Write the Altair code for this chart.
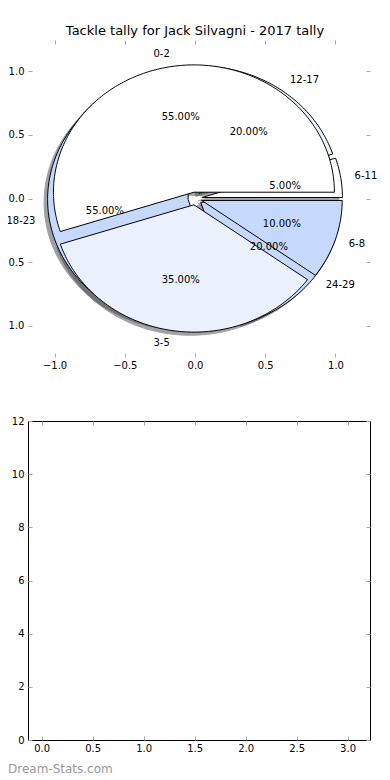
import numpy as np
import pandas as pd
import altair as alt

FONT = "DejaVu Sans"
TICK = "#aaaaaa"

title = "Tackle tally for Jack Silvagni - 2017 tally"
pie1_labels = ["0-2", "3-5", "6-8"]
pie1_values = [55, 35, 10]
pie1_colors = ["#ffffff", "#eaf1fd", "#c6d9fd"]
pie2_labels = ["6-11", "12-17", "18-23", "24-29"]
pie2_values = [5, 20, 55, 20]
pie2_colors = ["#ffffff", "#eaf1fd", "#c6d9fd", "#c6d9fd"]
explode = 0.05
shadow_shift = -0.025
pie_ticks = [-1.0, -0.5, 0.0, 0.5, 1.0]
bottom_x_ticks = [0.0, 0.5, 1.0, 1.5, 2.0, 2.5, 3.0]
bottom_y_ticks = [0, 2, 4, 6, 8, 10, 12]
watermark = "Dream-Stats.com"


def shade(c):
    r, g, b = (int(c[i:i + 2], 16) for i in (1, 3, 5))
    return "#%02x%02x%02x" % (int(r * 0.3), int(g * 0.3), int(b * 0.3))


wedge_rows, label_rows, pct_rows = [], [], []


def build(pie, labels, values, colors):
    total = float(sum(values))
    start = 0.0
    for lab, v, c in zip(labels, values, colors):
        span = 360.0 * v / total
        t1, t2 = start, start + span
        mid = np.deg2rad((t1 + t2) / 2)
        cx, cy = explode * np.cos(mid), explode * np.sin(mid)
        key = f"{pie}:{lab}"
        pts = [(cx, cy)]
        n = max(3, int(np.ceil(span)) + 1)
        for t in np.linspace(t1, t2, n):
            tr = np.deg2rad(t)
            pts.append((cx + np.cos(tr), cy + np.sin(tr)))
        for k, (px, py) in enumerate(pts):
            wedge_rows.append(dict(key=key, pie=pie, ord=k, x=px, y=py,
                                   sx=px + shadow_shift, sy=py + shadow_shift,
                                   fill=c, shade=shade(c)))
        xt = cx + 1.1 * np.cos(mid)
        yt = cy + 1.1 * np.sin(mid)
        label_rows.append(dict(text=lab, x=xt, y=yt, side="left" if xt > 0 else "right"))
        pct_rows.append(dict(text=f"{100 * v / total:.2f}%",
                             x=cx + 0.6 * np.cos(mid), y=cy + 0.6 * np.sin(mid)))
        start = t2


build(2, pie2_labels, pie2_values, pie2_colors)
build(1, pie1_labels, pie1_values, pie1_colors)
wdf = pd.DataFrame(wedge_rows)
ldf = pd.DataFrame(label_rows)
pdf = pd.DataFrame(pct_rows)


def axis(orient, values, fmt, labels):
    kw = dict(orient=orient, values=values, domain=False, grid=False, ticks=True,
              tickSize=4, tickColor=TICK, tickWidth=1, offset=-4, title=None,
              labels=labels)
    if labels:
        kw.update(format=fmt, labelFont=FONT, labelFontSize=10, labelColor="black",
                  labelOverlap=False, labelFlush=False)
        if orient in ("bottom", "top"):
            kw.update(labelBaseline="middle", labelPadding=8)
        else:
            kw.update(labelAlign="right", labelBaseline="middle", labelPadding=4)
    return alt.Axis(**kw)


PW = 342  # plot width of both panels

xs = alt.Scale(domain=[-1.189, 1.2456], nice=False, zero=False)
ys = alt.Scale(domain=[-1.245, 1.245], nice=False, zero=False)

shadow = alt.Chart(wdf).mark_line(interpolate="linear-closed", opacity=0.5, strokeWidth=1).encode(
    x=alt.X("sx:Q", scale=xs, axis=axis("bottom", pie_ticks, ".1f", True)),
    y=alt.Y("sy:Q", scale=ys, axis=axis("left", pie_ticks, ".1f", True)),
    order="ord:Q",
    detail="key:N",
    fill=alt.Fill("shade:N", scale=None),
    stroke=alt.Stroke("shade:N", scale=None),
)


def wedge_layer(pie):
    return alt.Chart(wdf).transform_filter(alt.datum.pie == pie).mark_line(
        interpolate="linear-closed", stroke="black", strokeWidth=1, strokeJoin="miter"
    ).encode(
        x=alt.X("x:Q", scale=xs, axis=None),
        y=alt.Y("y:Q", scale=ys, axis=None),
        order="ord:Q",
        detail="key:N",
        fill=alt.Fill("fill:N", scale=None),
    )


def text_layer(df, align, flt=None):
    c = alt.Chart(df)
    if flt is not None:
        c = c.transform_filter(alt.datum.side == flt)
    return c.mark_text(align=align, baseline="middle", fontSize=10, font=FONT, color="black").encode(
        x=alt.X("x:Q", scale=xs, axis=None),
        y=alt.Y("y:Q", scale=ys, axis=None),
        text="text:N",
    )


ghost_top = alt.Chart(pdf).mark_point(opacity=0).encode(
    x=alt.X("x:Q", scale=xs, axis=axis("top", pie_ticks, ".1f", False)),
    y=alt.Y("y:Q", scale=ys, axis=axis("right", pie_ticks, ".1f", False)),
)

top = alt.layer(
    shadow, wedge_layer(2), wedge_layer(1),
    text_layer(ldf, "left", "left"), text_layer(ldf, "right", "right"),
    text_layer(pdf, "center"), ghost_top,
).resolve_axis(x="independent", y="independent").properties(
    width=PW, height=317,
    title=alt.TitleParams(text=title, fontSize=13, font=FONT, fontWeight="normal",
                          color="black", anchor="middle", offset=6, baseline="alphabetic",
                          dy=14, dx=-4),
    view=alt.ViewBackground(stroke="transparent"),
)

bx = alt.Scale(domain=[-0.134, 3.22], nice=False, zero=False)
by = alt.Scale(domain=[0, 12], nice=False, zero=False)
bdf = pd.DataFrame({"x": bottom_x_ticks, "y": bottom_y_ticks})

b_main = alt.Chart(bdf).mark_point(opacity=0).encode(
    x=alt.X("x:Q", scale=bx, axis=axis("bottom", bottom_x_ticks, ".1f", True)),
    y=alt.Y("y:Q", scale=by, axis=axis("left", bottom_y_ticks, "d", True)),
)
b_ghost = alt.Chart(bdf).mark_point(opacity=0).encode(
    x=alt.X("x:Q", scale=bx, axis=axis("top", bottom_x_ticks, ".1f", False)),
    y=alt.Y("y:Q", scale=by, axis=axis("right", bottom_y_ticks, "d", False)),
)
b_mark = alt.Chart(pd.DataFrame({"t": [watermark]})).mark_text(
    align="left", baseline="alphabetic", fontSize=12, font=FONT, color="#999999"
).encode(text="t:N", x=alt.value(-20), y=alt.value(352))

bottom = alt.layer(b_main, b_ghost, b_mark).resolve_axis(
    x="independent", y="independent"
).properties(
    width=PW, height=319,
    view=alt.ViewBackground(stroke="black", strokeWidth=1),
)

chart = alt.vconcat(top, bottom, spacing=64, bounds="flush").properties(
    autosize=alt.AutoSizeParams(type="none"),
    padding={"left": 20, "top": 32, "right": 12, "bottom": 734},
    background="white",
).configure(font=FONT)

chart.save("out.html", embed_options={"renderer": "svg", "actions": False})
